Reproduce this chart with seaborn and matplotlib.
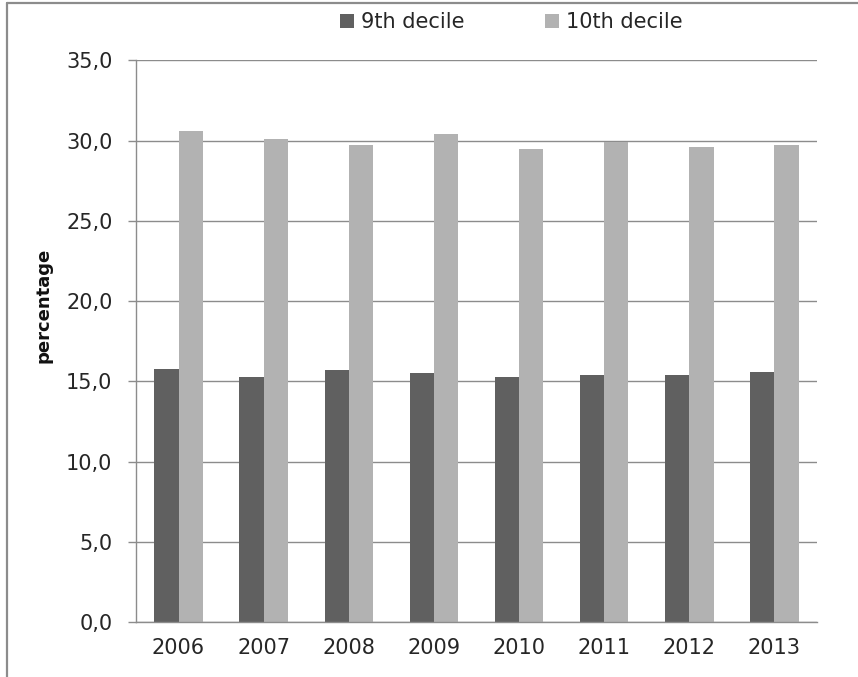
import matplotlib
matplotlib.use("Agg")
import matplotlib.pyplot as plt
from matplotlib.lines import Line2D
from matplotlib.patches import Patch
from matplotlib.ticker import FuncFormatter, FixedLocator, MultipleLocator
import seaborn as sns
import pandas as pd

years = ["2006", "2007", "2008", "2009", "2010", "2011", "2012", "2013"]
decile_9 = [15.8, 15.3, 15.7, 15.5, 15.3, 15.4, 15.4, 15.6]
decile_10 = [30.6, 30.1, 29.7, 30.4, 29.5, 29.9, 29.6, 29.7]
series_names = ["9th decile", "10th decile"]
series_colors = ["#606060", "#b2b2b2"]

df = pd.DataFrame({
    "year": years * 2,
    "value": decile_9 + decile_10,
    "series": [series_names[0]] * len(years) + [series_names[1]] * len(years),
})

sns.set_style("white")
plt.rcParams["font.family"] = ["DejaVu Sans"]

text_color = "#262626"
grid_color = "#8c8c8c"

fig = plt.figure(figsize=(8.58, 6.77), dpi=100)
ax = fig.add_axes([0.1585, 0.0808, 0.9522 - 0.1585, 0.911 - 0.0808])

sns.barplot(data=df, x="year", y="value", hue="series", order=years,
            hue_order=series_names, palette=series_colors, width=0.57,
            gap=0, saturation=1, linewidth=0, ax=ax, legend=False, errorbar=None)

ax.set_ylim(0, 35)
ax.set_xlim(-0.5, len(years) - 0.5)
ax.yaxis.set_major_locator(MultipleLocator(5))
ax.yaxis.set_major_formatter(FuncFormatter(lambda v, p: f"{v:.1f}".replace(".", ",")))
ax.grid(axis="y", color=grid_color, linewidth=1.0)
ax.set_axisbelow(True)

for side in ["top", "right"]:
    ax.spines[side].set_visible(False)
for side in ["left", "bottom"]:
    ax.spines[side].set_color(grid_color)
    ax.spines[side].set_linewidth(1.0)

# category ticks sit on the group boundaries
ax.xaxis.set_minor_locator(FixedLocator([i - 0.5 for i in range(len(years) + 1)]))
ax.tick_params(axis="x", which="major", length=0, pad=11, labelsize=15, labelcolor=text_color)
ax.tick_params(axis="x", which="minor", length=7, width=1, color=grid_color, direction="out")
ax.tick_params(axis="y", which="major", length=6, width=1, color=grid_color,
               direction="out", pad=11, labelsize=15, labelcolor=text_color, left=True)

ax.set_xlabel("")
ax.set_ylabel("")
fig.text(44 / 858, 1 - 305 / 677, "percentage", rotation=90, ha="center", va="center",
         fontsize=13, fontweight="bold", color="#111111")

handles = [Patch(facecolor=c, edgecolor="none") for c in series_colors]
fig.legend(handles, series_names, loc="center", bbox_to_anchor=(0.596, 0.967), ncol=2,
           frameon=False, fontsize=15, handlelength=0.65, handleheight=0.65,
           handletextpad=0.33, columnspacing=3.9, labelcolor=text_color,
           borderpad=0, borderaxespad=0)

# chart area frame along the top and left edges
fig.add_artist(Line2D([0.0085, 0.0085], [0.0, 0.995], transform=fig.transFigure,
                      color="#8c8c8c", linewidth=1.6))
fig.add_artist(Line2D([0.0085, 1.0], [0.995, 0.995], transform=fig.transFigure,
                      color="#8c8c8c", linewidth=1.6))

fig.savefig("out.png", dpi=100, facecolor="white")
